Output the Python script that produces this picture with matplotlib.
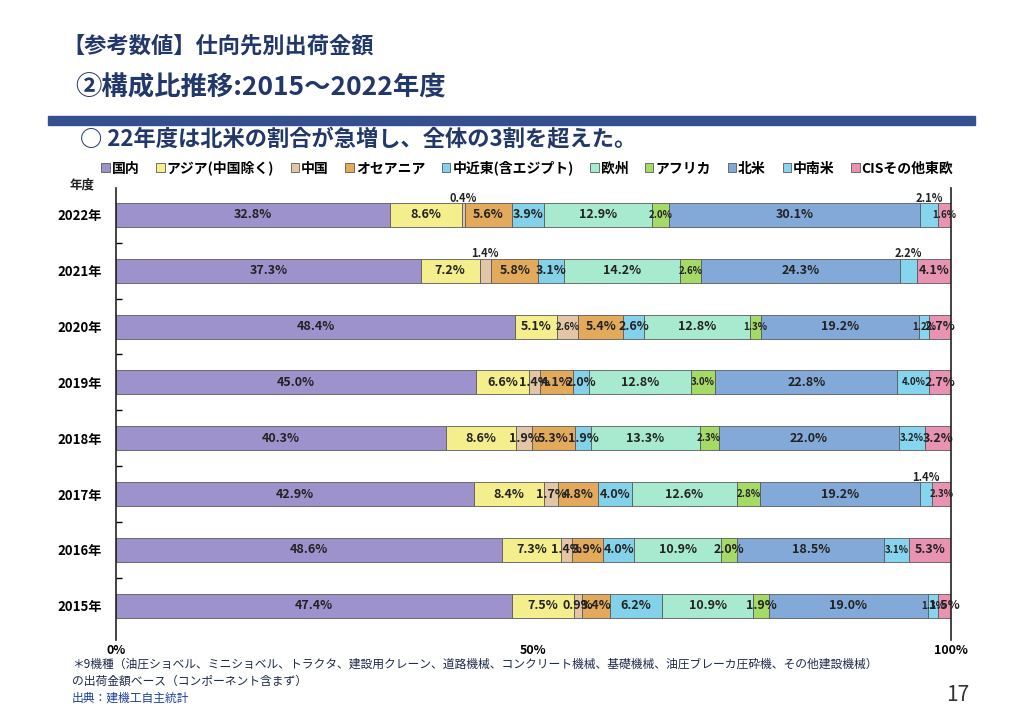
import numpy as np
import matplotlib.pyplot as plt
from matplotlib.patches import Rectangle

plt.rcParams['font.family'] = ['Noto Sans CJK JP', 'DejaVu Sans']

years = ['2015年', '2016年', '2017年', '2018年', '2019年', '2020年', '2021年', '2022年']
regions = ['国内', 'アジア(中国除く)', '中国', 'オセアニア', '中近東(含エジプト)',
           '欧州', 'アフリカ', '北米', '中南米', 'CISその他東欧']

# 構成比 (%) 2015 -> 2022
domestic = [47.4, 48.6, 42.9, 40.3, 45.0, 48.4, 37.3, 32.8]
asia = [7.5, 7.3, 8.4, 8.6, 6.6, 5.1, 7.2, 8.6]
china = [0.9, 1.4, 1.7, 1.9, 1.4, 2.6, 1.4, 0.4]
oceania = [3.4, 3.9, 4.8, 5.3, 4.1, 5.4, 5.8, 5.6]
mideast = [6.2, 4.0, 4.0, 1.9, 2.0, 2.6, 3.1, 3.9]
europe = [10.9, 10.9, 12.6, 13.3, 12.8, 12.8, 14.2, 12.9]
africa = [1.9, 2.0, 2.8, 2.3, 3.0, 1.3, 2.6, 2.0]
n_america = [19.0, 18.5, 19.2, 22.0, 22.8, 19.2, 24.3, 30.1]
s_america = [1.3, 3.1, 1.4, 3.2, 4.0, 1.2, 2.2, 2.1]
cis = [1.5, 5.3, 2.3, 3.2, 2.7, 2.7, 4.1, 1.6]

colors = ['#9d92cc', '#f4ee8c', '#e3c6a6', '#e3aa5c', '#84d2ea',
          '#a8eacf', '#a6da66', '#82a9d8', '#86d4ee', '#e993b3']

# labels drawn above the bar / in a smaller font  (year index, region index)
above = [(7, 2), (7, 8), (6, 2), (6, 8), (2, 8)]
small = [(7, 6), (7, 9), (6, 6), (5, 2), (5, 6), (5, 8), (4, 6), (4, 8),
         (3, 6), (3, 8), (2, 6), (2, 9), (1, 8), (0, 8)]

data = np.array([domestic, asia, china, oceania, mideast, europe,
                 africa, n_america, s_america, cis])
shares = data / data.sum(axis=0) * 100  # 100%積み上げ

fig = plt.figure(figsize=(10.24, 7.19), dpi=100)
ax = fig.add_axes([0.1133, 0.110, 0.8154, 0.6285])

y = np.arange(len(years))
left = np.zeros(len(years))
for i, name in enumerate(regions):
    ax.barh(y, shares[i], left=left, height=0.43, color=colors[i],
            edgecolor='#5a5a5a', linewidth=0.6, label=name)
    for j in range(len(years)):
        txt = f'{data[i, j]:.1f}%'
        cx = left[j] + shares[i, j] / 2
        fs = 7 if (j, i) in small else 9
        if (j, i) in above:
            ax.text(cx, y[j] + 0.3, txt, ha='center', va='center',
                    fontsize=8, fontweight='bold', color='#222222')
        else:
            ax.text(cx, y[j], txt, ha='center', va='center',
                    fontsize=fs, fontweight='bold', color='#222222')
    left += shares[i]

ax.set_xlim(0, 100)
ax.set_ylim(-0.61, 7.48)
ax.set_xticks([0, 50, 100])
ax.set_xticklabels(['0%', '50%', '100%'], fontsize=9, fontweight='bold')
ax.set_yticks(y)
ax.set_yticklabels(years, fontsize=9.5, fontweight='bold')
ax.set_yticks(y[:-1] + 0.5, minor=True)
ax.tick_params(axis='x', length=0, pad=3)
ax.tick_params(axis='y', which='major', length=0, pad=10)
ax.tick_params(axis='y', which='minor', direction='in', length=4, width=1)
for s in ['top', 'bottom']:
    ax.spines[s].set_visible(False)
for s in ['left', 'right']:
    ax.spines[s].set_color('#222222')
    ax.spines[s].set_linewidth(1.2)

fig.legend(loc='center', bbox_to_anchor=(0.515, 0.766), ncol=10, frameon=False,
           prop={'size': 10, 'weight': 'bold'}, handlelength=0.6, handleheight=0.6,
           handletextpad=0.15, columnspacing=1.2, borderaxespad=0)

navy = '#22386b'
fig.text(0.0605, 0.936, '【参考数値】仕向先別出荷金額', fontsize=16, fontweight='bold',
         color=navy, va='center')
fig.text(0.073, 0.878, '②構成比推移:2015～2022年度', fontsize=19, fontweight='bold',
         color=navy, va='center')
fig.patches.append(Rectangle((0.047, 0.826), 0.905, 0.0125, transform=fig.transFigure,
                             color='#34508f', zorder=1))
fig.text(0.078, 0.805, '○ 22年度は北米の割合が急増し、全体の3割を超えた。', fontsize=16,
         fontweight='bold', color=navy, va='center')
fig.text(0.068, 0.743, '年度', fontsize=9, fontweight='bold', color='#222222', va='center')

fig.text(0.070, 0.0765, '＊9機種（油圧ショベル、ミニショベル、トラクタ、建設用クレーン、道路機械、'
         'コンクリート機械、基礎機械、油圧ブレーカ圧砕機、その他建設機械）',
         fontsize=8.5, color='#1e2a4a', va='center')
fig.text(0.070, 0.053, 'の出荷金額ベース（コンポーネント含まず）', fontsize=8.5,
         color='#1e2a4a', va='center')
fig.text(0.070, 0.029, '出典：建機工自主統計', fontsize=8.5, color='#1a3fa0', va='center')
fig.text(0.935, 0.033, '17', fontsize=15, color='#333333', va='center', ha='center')

fig.savefig('out.png', dpi=100)
